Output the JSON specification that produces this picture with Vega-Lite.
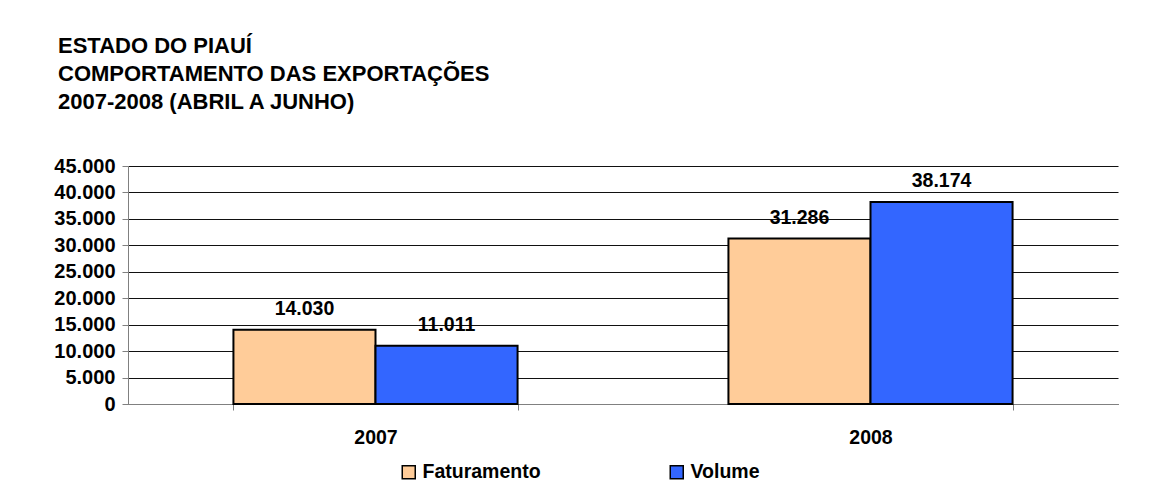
{
  "$schema": "https://vega.github.io/schema/vega-lite/v6.json",
  "autosize": {"type": "none"},
  "padding": {"left": 128, "top": 166, "right": 35, "bottom": 94},
  "width": 990,
  "height": 238,
  "background": "white",
  "title": {
    "text": ["ESTADO DO PIAUÍ", "COMPORTAMENTO DAS EXPORTAÇÕES", "2007-2008 (ABRIL A JUNHO)"],
    "anchor": "start",
    "frame": "group",
    "dx": -70,
    "offset": 42,
    "font": "Liberation Sans",
    "fontSize": 22,
    "fontWeight": "bold",
    "lineHeight": 28,
    "color": "black"
  },
  "data": {
    "values": [
      {"ano": "2007", "serie": "Faturamento", "valor": 14030},
      {"ano": "2007", "serie": "Volume", "valor": 11011},
      {"ano": "2008", "serie": "Faturamento", "valor": 31286},
      {"ano": "2008", "serie": "Volume", "valor": 38174}
    ]
  },
  "encoding": {
    "x": {
      "field": "ano", "type": "nominal", "title": null,
      "scale": {"paddingInner": 0.426, "paddingOuter": 0.213},
      "axis": {
        "labelAngle": 0, "tickBand": "extent", "tickSize": 6, "tickColor": "#808080",
        "domainColor": "#808080", "labelPadding": 18, "labelFontSize": 19.5,
        "labelFont": "Liberation Sans", "labelFontWeight": "bold", "labelColor": "black", "grid": false
      }
    },
    "xOffset": {"field": "serie", "type": "nominal", "sort": ["Faturamento", "Volume"], "scale": {"paddingInner": 0, "paddingOuter": 0}},
    "y": {
      "field": "valor", "type": "quantitative", "title": null,
      "scale": {"domain": [0, 45000], "nice": false},
      "axis": {
        "values": [0, 5000, 10000, 15000, 20000, 25000, 30000, 35000, 40000, 45000],
        "format": ",d", "grid": true, "gridColor": "#111111", "gridOpacity": 1, "gridWidth": 1,
        "tickColor": "#808080", "tickSize": 6, "domainColor": "#808080", "labelPadding": 7,
        "labelFontSize": 20, "labelFont": "Liberation Sans", "labelFontWeight": "bold", "labelColor": "black"
      }
    }
  },
  "layer": [
    {
      "mark": {"type": "bar", "stroke": "black", "strokeWidth": 2},
      "encoding": {
        "color": {
          "field": "serie", "type": "nominal", "title": null,
          "scale": {"domain": ["Faturamento", "Volume"], "range": ["#FFCC99", "#3366FF"]},
          "legend": {
            "orient": "none", "direction": "horizontal", "legendX": 271, "legendY": 296,
            "symbolType": "square", "symbolSize": 169, "symbolStrokeColor": "black", "symbolStrokeWidth": 1.5,
            "symbolOpacity": 1,
            "labelFontSize": 19.5, "labelFont": "Liberation Sans", "labelFontWeight": "bold", "labelColor": "black",
            "columnPadding": 126, "labelOffset": 4
          }
        }
      }
    },
    {
      "mark": {"type": "text", "baseline": "alphabetic", "dy": -15, "font": "Liberation Sans", "fontSize": 19.5, "fontWeight": "bold", "color": "black"},
      "encoding": {"text": {"field": "valor", "type": "quantitative", "format": ",d"}}
    }
  ],
  "config": {
    "locale": {"number": {"decimal": ",", "thousands": ".", "grouping": [3], "currency": ["R$", ""]}},
    "view": {"stroke": null}
  }
}
